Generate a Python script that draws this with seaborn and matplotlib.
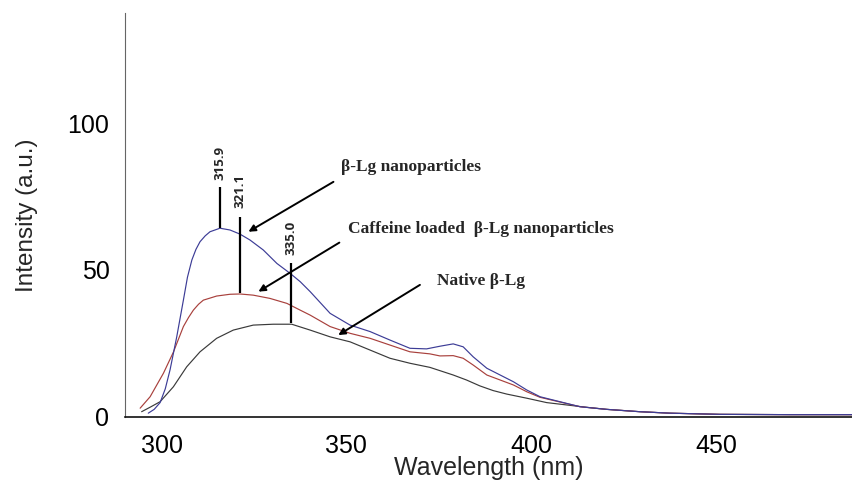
import matplotlib
matplotlib.use("Agg")
import matplotlib.pyplot as plt
import numpy as np
import pandas as pd
import seaborn as sns

# ---------------- data ----------------
native_x = [294.6, 297.0, 299.6, 303.2, 306.8, 310.4, 314.9, 319.4, 324.8, 330.2,
            335.2, 340.2, 345.6, 351.0, 356.4, 361.8, 367.2, 372.6, 378.9, 382.5,
            386.1, 389.7, 393.4, 398.8, 404.2, 409.6, 415.0, 420.4, 429.4, 437.5,
            451.0, 470.0, 487.0]
native_y = [1.7, 3.3, 5.1, 10.2, 17.0, 22.1, 26.7, 29.5, 31.2, 31.5,
            31.5, 29.5, 27.2, 25.5, 22.7, 19.9, 18.2, 16.8, 14.2, 12.5,
            10.5, 8.9, 7.7, 6.3, 4.8, 4.0, 3.2, 2.5, 1.7, 1.2,
            0.8, 0.7, 0.7]

caffeine_x = [294.2, 296.9, 300.5, 303.2, 305.9, 307.3, 308.6, 310.0, 311.3, 314.9,
              318.5, 321.2, 324.8, 329.3, 333.9, 337.5, 340.2, 345.6, 351.0, 356.4,
              361.8, 367.2, 372.6, 375.3, 378.9, 381.6, 384.3, 388.0, 391.6, 395.2,
              398.8, 402.4, 407.8, 413.2, 420.4, 429.4, 437.5, 451.0, 470.0, 487.0]
caffeine_y = [2.9, 6.8, 14.8, 22.0, 30.7, 33.8, 36.3, 38.3, 39.7, 41.1,
              41.7, 41.8, 41.4, 40.3, 38.6, 36.3, 34.6, 30.7, 28.4, 26.7,
              24.4, 22.1, 21.4, 20.7, 20.8, 19.9, 17.6, 14.2, 12.5, 10.8,
              8.5, 6.6, 5.0, 3.4, 2.5, 1.7, 1.2, 0.8, 0.7, 0.7]

nano_x = [296.4, 298.0, 299.6, 301.0, 302.3, 304.1, 305.9, 307.0, 308.2, 309.3,
          310.4, 311.8, 313.1, 315.8, 318.5, 321.2, 323.9, 327.5, 331.2, 334.8,
          337.5, 340.2, 345.6, 351.0, 356.4, 361.8, 367.2, 371.7, 375.3, 378.9,
          381.6, 384.3, 388.0, 391.6, 395.2, 398.8, 402.4, 407.8, 413.2, 420.4,
          429.4, 437.5, 451.0, 470.0, 487.0]
nano_y = [1.2, 2.5, 4.8, 9.5, 16.0, 27.2, 39.7, 47.5, 53.4, 57.0,
          59.6, 61.6, 63.0, 64.2, 63.6, 62.2, 60.2, 56.8, 52.2, 48.8,
          46.0, 42.6, 35.2, 31.2, 29.0, 26.1, 23.3, 23.1, 24.0, 24.8,
          23.8, 20.4, 16.5, 14.2, 11.9, 9.1, 6.8, 5.1, 3.4, 2.5,
          1.7, 1.2, 0.8, 0.7, 0.7]

series_names = ["Native", "Caffeine", "Nano"]
series_colors = ["#3a3a3a", "#a8403c", "#3c3c96"]

peak_labels = ["315.9", "321.1", "335.0"]
peak_x = [315.9, 321.1, 335.0]
peak_base = [64.3, 42.1, 31.9]
peak_top = [78.2, 68.1, 52.4]
peak_text_y = [86.3, 76.9, 60.9]

ann_texts = ["\u03b2-Lg nanoparticles",
             "Caffeine loaded  \u03b2-Lg nanoparticles",
             "Native \u03b2-Lg"]
ann_text_xy = [(348.5, 85.0), (350.4, 63.9), (374.5, 46.2)]
ann_tail = [(346.5, 80.0), (348.1, 59.3), (369.9, 44.9)]
ann_head = [(323.5, 63.0), (326.2, 42.6), (347.8, 27.8)]

x_ticks = [300, 350, 400, 450]
y_ticks = [0, 50, 100]

# ---------------- figure ----------------
sns.set_theme(style="white")
plt.rcParams["font.family"] = ["Liberation Sans", "DejaVu Sans"]

fig = plt.figure(figsize=(8.52, 4.86), dpi=100)
ax = fig.add_axes([0.1467, 0.1426, 0.8533, 0.830])

df = pd.concat([
    pd.DataFrame({"wavelength": native_x, "intensity": native_y, "sample": "Native"}),
    pd.DataFrame({"wavelength": caffeine_x, "intensity": caffeine_y, "sample": "Caffeine"}),
    pd.DataFrame({"wavelength": nano_x, "intensity": nano_y, "sample": "Nano"}),
], ignore_index=True)

sns.lineplot(data=df, x="wavelength", y="intensity", hue="sample",
             hue_order=series_names, palette=dict(zip(series_names, series_colors)),
             estimator=None, sort=False, linewidth=0.85, legend=False, ax=ax)

ax.set_xlim(290.1, 486.8)
ax.set_ylim(0, 137.4)
ax.set_xticks(x_ticks)
ax.set_yticks(y_ticks)

sns.despine(ax=ax)
ax.spines["left"].set_color("#666666")
ax.spines["left"].set_linewidth(0.8)
ax.spines["bottom"].set_color("#111111")
ax.spines["bottom"].set_linewidth(1.2)
ax.tick_params(axis="both", direction="out", length=7.2, width=0.8,
               colors="#555555", labelcolor="black", labelsize=18)
ax.tick_params(axis="x", pad=5)
ax.tick_params(axis="y", pad=4)

ax.set_xlabel("Wavelength (nm)", fontsize=18, labelpad=-1)
ax.set_ylabel("Intensity (a.u.)", fontsize=17.5, labelpad=21)

# peak markers
for lbl, px, b, t, ty in zip(peak_labels, peak_x, peak_base, peak_top, peak_text_y):
    ax.plot([px, px], [b, t], color="black", lw=1.6, solid_capstyle="butt")
    ax.text(px, ty, lbl, rotation=90, ha="center", va="center",
            fontsize=9.5, fontweight="bold", family=["Open Sans", "DejaVu Sans"])

# annotations with arrows
for txt, txy, tail, head in zip(ann_texts, ann_text_xy, ann_tail, ann_head):
    ax.text(txy[0], txy[1], txt, ha="left", va="center", fontsize=12.5,
            fontweight="bold", family=["Liberation Serif", "DejaVu Serif"])
    ax.annotate("", xy=head, xytext=tail,
                arrowprops=dict(arrowstyle="-|>", color="black", lw=1.4,
                                mutation_scale=10, shrinkA=0, shrinkB=0))

fig.savefig("out.png", dpi=100)
